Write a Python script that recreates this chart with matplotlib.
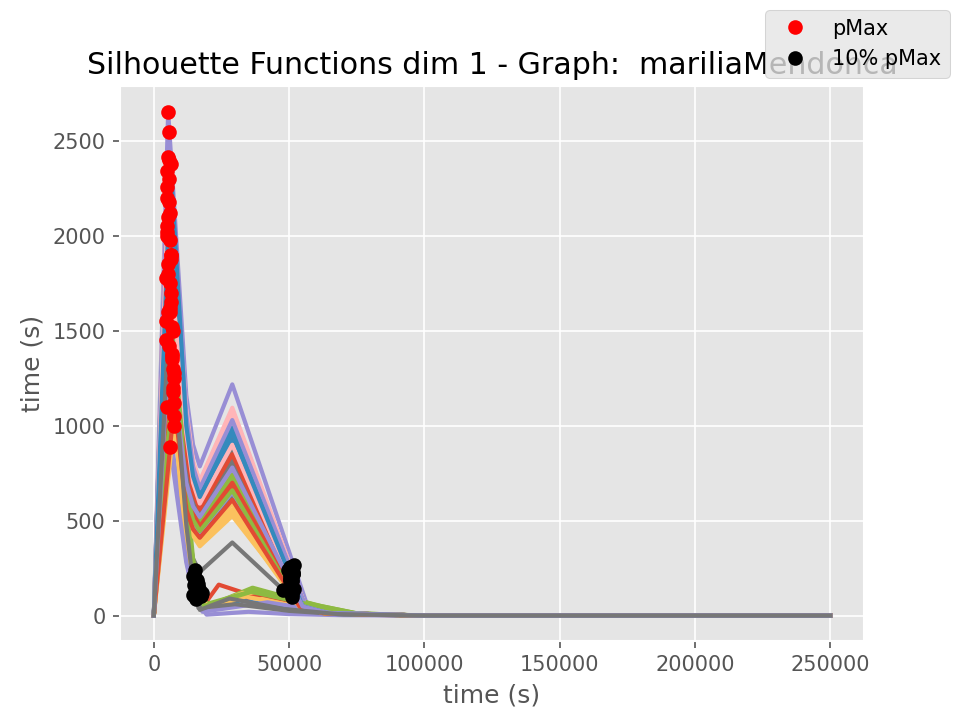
import matplotlib
matplotlib.use("Agg")
import matplotlib.pyplot as plt
import numpy as np

plt.style.use('ggplot')

graph_name = 'mariliaMendonca'
dim = 1

# one entry per silhouette function (x values in thousands of seconds)
peak_x = [6.4, 5.0, 5.3, 6.8, 4.6, 7.2, 5.6, 6.2, 4.8, 5.0, 7.0, 6.0, 5.4, 4.7, 6.9, 5.9,
          7.4, 5.2, 6.6, 5.6, 5.3, 7.1, 4.5, 6.3, 5.1, 7.5, 5.8, 4.9, 6.7, 6.1, 6.0, 4.6,
          7.0, 7.3, 5.7, 6.4, 5.0, 5.5, 5.3, 7.4, 6.5, 4.8, 7.6, 6.2, 5.5, 5.8]
peak_y = [1650, 2050, 2655, 1370, 1450, 1200, 2300, 1900, 2200, 1100, 1300, 1750, 1600, 2000, 1380, 2120,
          1250, 1800, 1350, 2400, 2415, 1500, 1550, 1700, 1850, 1050, 1620, 2340, 1520, 1980, 890, 1780,
          1180, 1280, 2180, 1880, 2260, 2545, 2100, 1000, 1900, 2020, 1120, 2380, 1420, 1600]
drop_y = [520, 950, 1160, 500, 560, 380, 1050, 900, 1030, 300, 600, 520, 720, 600, 430, 1000,
          640, 860, 590, 680, 1090, 690, 470, 780, 850, 350, 740, 1070, 700, 930, 280, 820,
          560, 650, 1010, 870, 990, 1060, 560, 520, 560, 960, 560, 1000, 700, 480]
pre_y = [250, 740, 900, 300, 420, 220, 810, 700, 790, 110, 475, 230, 550, 240, 220, 745,
         500, 660, 445, 300, 815, 530, 200, 585, 635, 190, 565, 795, 540, 700, 120, 615,
         450, 505, 760, 655, 750, 785, 190, 420, 260, 700, 455, 735, 575, 170]
valley_x = [18.5, 17, 17, 17, 17, 20, 17, 17, 17, 19.5, 17, 18, 17, 17.5, 19, 17,
            17, 17, 17, 18, 17, 17, 19, 17, 17, 20, 17, 17, 17, 17, 18, 17,
            17, 17, 17, 17, 17, 17, 16.5, 17, 18.5, 17, 17, 17, 17, 17]
valley_y = [55, 650, 786, 230, 365, 50, 710, 615, 685, 5, 420, 40, 480, 35, 45, 635,
            440, 575, 385, 55, 700, 460, 30, 500, 545, 40, 490, 680, 470, 600, 20, 530,
            400, 445, 655, 560, 645, 670, 40, 375, 50, 590, 410, 625, 520, 30]
bump_x = [24, 29, 29, 29, 29, 36.5, 29, 29, 29, 35, 29, 33, 29, 30, 40, 29,
          29, 29, 29, 38, 29, 29, 32, 29, 29, 34, 29, 29, 29, 29, 42, 29,
          29, 29, 29, 29, 29, 29, 30, 29, 36, 29, 29, 29, 29, 28]
bump_y = [163, 1000, 1218, 385, 525, 147, 1095, 940, 1060, 20, 620, 120, 720, 95, 110, 970,
          650, 880, 560, 135, 1080, 680, 80, 760, 830, 100, 740, 1050, 700, 920, 70, 800,
          590, 660, 1010, 850, 990, 1030, 60, 545, 125, 900, 610, 960, 780, 90]
knee_x = [49, 55, 57, 55, 55, 60, 56, 55, 56, 50, 54, 55, 55, 50, 60, 55,
          54, 55, 55, 62, 56, 55, 52, 55, 55, 56, 55, 56, 55, 55, 60, 55,
          54, 54, 56, 55, 56, 56, 50, 54, 62, 55, 54, 55, 55, 48]
knee_y = [47, 55, 42, 40, 50, 55, 50, 50, 48, 8, 45, 45, 48, 40, 45, 50,
          45, 50, 48, 50, 50, 48, 35, 48, 50, 40, 48, 50, 48, 50, 30, 50,
          45, 45, 50, 50, 50, 50, 25, 45, 45, 50, 45, 50, 48, 35]
tail_x = [75, 64, 66, 62, 64, 75, 65, 64, 65, 70, 63, 70, 64, 70, 75, 64,
          63, 64, 64, 75, 65, 64, 70, 64, 64, 72, 64, 65, 64, 64, 75, 64,
          63, 63, 65, 64, 65, 65, 70, 63, 75, 64, 63, 64, 64, 68]
tail_y = [5, 15, 12, 12, 14, 12, 14, 14, 14, 2, 12, 10, 14, 8, 10, 14,
          12, 14, 14, 12, 14, 14, 8, 14, 14, 10, 14, 14, 14, 14, 6, 14,
          12, 12, 14, 14, 14, 14, 6, 12, 10, 14, 12, 14, 14, 8]
drop_x = 12
pre_x = 14.5
end_x = [100, 250]

fig, ax = plt.subplots(figsize=(6.4, 4.8), dpi=150)

pmax_x, pmax_y, p10_x, p10_y = [], [], [], []
for i in range(len(peak_y)):
    xs = np.array([0, peak_x[i], drop_x, pre_x, valley_x[i], bump_x[i], knee_x[i], tail_x[i]] + end_x) * 1000
    ys = np.array([0, peak_y[i], drop_y[i], pre_y[i], valley_y[i], bump_y[i], knee_y[i], tail_y[i], 0, 0])
    ax.plot(xs, ys, lw=2)

    # max point and first point after it where the function gets to 10% of the max
    k = np.argmax(ys)
    pmax_x.append(xs[k])
    pmax_y.append(ys[k])
    lvl = 0.1 * ys[k]
    for j in range(k, len(ys) - 1):
        if ys[j] >= lvl > ys[j + 1]:
            t = (ys[j] - lvl) / (ys[j] - ys[j + 1])
            p10_x.append(xs[j] + t * (xs[j + 1] - xs[j]))
            p10_y.append(lvl)
            break

ax.plot(pmax_x, pmax_y, 'o', color='red', label='pMax')
ax.plot(p10_x, p10_y, 'o', color='black', label='10% pMax')

ax.set_title(f'Silhouette Functions dim {dim} - Graph:  {graph_name}')
ax.set_xlabel('time (s)')
ax.set_ylabel('time (s)')
fig.legend()

fig.savefig('out.png')
